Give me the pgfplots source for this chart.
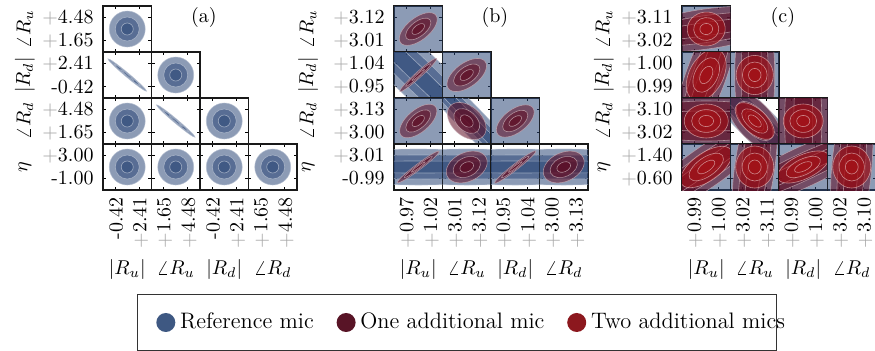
\documentclass[border=0pt]{standalone}
\usepackage{pgfplots}
\usepackage{pgfplotstable}
\pgfplotsset{compat=1.18}
\definecolor{refb}{RGB}{45,72,120}
\definecolor{onem}{RGB}{95,12,35}
\definecolor{twom}{RGB}{165,18,24}
\definecolor{legb}{RGB}{62,88,130}
\definecolor{lego}{RGB}{88,20,38}
\definecolor{legt}{RGB}{140,24,30}
\newcommand\pl{{\color{black!35}$+$}}
\pgfdeclareplotmark{ell}{%
  \pgfpathellipse{\pgfpointorigin}{\pgfpoint{\ellrx pt}{0pt}}{\pgfpoint{0pt}{\ellry pt}}%
  \pgfusepath{fill,stroke}}
\pgfplotsset{
  ells/.style 2 args={scatter, only marks, mark=ell,
    point meta=0, point meta min=0, point meta max=1,
    visualization depends on={\thisrow{rx}\as\ellrx},
    visualization depends on={\thisrow{ry}\as\ellry},
    visualization depends on={\thisrow{a}\as\ellang},
    scatter/@pre marker code/.code={\pgfscope\pgftransformrotate{\ellang}},
    scatter/@post marker code/.code={\endpgfscope},
    mark options={fill=#1, fill opacity=#2, draw=#1!35!white, draw opacity=0.75, line width=0.3pt}},
  B/.style={ells={refb}{0.55}},
  M/.style={ells={onem}{0.55}},
  R/.style={ells={twom}{0.6}},
  cell/.style={scale only axis, width=24.25pt, height=23pt, anchor=north west,
    xmin=-1,xmax=1,ymin=-1,ymax=1, xtick={-0.5,0.5}, ytick={-0.5,0.5},
    xticklabels={}, yticklabels={}, tick align=inside, major tick length=1.5pt,
    tick style={black, line width=0.5pt}, axis line style={black!90, line width=0.9pt},
    clip marker paths=true,
    xticklabel style={rotate=90, anchor=east, yshift=-0.5pt},
    yticklabel style={anchor=east, xshift=-1.2pt},
    every axis x label/.style={at={(axis description cs:0.5,-1.72)}, anchor=center},
    every axis y label/.style={at={(axis description cs:-1.61,0.5)}, rotate=90, anchor=center},
    every axis title/.style={at={(axis description cs:2.08,0.76)}, anchor=center},
  },
  ly/.style n args={3}{ylabel={#1}, yticklabels={{#2},{#3}}},
  bx/.style n args={3}{xlabel={#1}, xticklabels={{#2},{#3}}},
  lyb/.style={every axis y label/.append style={at={(axis description cs:-1.77,0.5)}}},
}
% ---------- ellipse tables: x y (axis units), rx ry (pt), a (deg) ----------
\pgfplotstableread{
x y rx ry a
0 0 9 9 0
0 0 6 6 0
0 0 3 3 0
}\aCirc
\pgfplotstableread{
x y rx ry a
0 0 12.6 1.0 -40
0 0 8.4 0.65 -40
0 0 4.2 0.35 -40
}\aLine
\pgfplotstableread{
x y rx ry a
0 0 60 60 0
}\bg
\pgfplotstableread{
x y rx ry a
0 0 60 12 -44
0 0 60 8 -44
0 0 60 4 -44
}\bBandA
\pgfplotstableread{
x y rx ry a
0.12 0.12 60 6.6 -46
0.12 0.12 60 4.4 -46
0.12 0.12 60 2.2 -46
}\bBandB
\pgfplotstableread{
x y rx ry a
0 0 60 9 0
0 0 60 6 0
0 0 60 3 0
}\bBandH
\pgfplotstableread{
x y rx ry a
0 0 60 9 -45
0 0 60 6 -45
0 0 60 3 -45
}\cBand
% maroon, panel (b)
\pgfplotstableread{
x y rx ry a
0 0 11.2 5.6 38
0 0 7.5 3.7 38
0 0 3.7 1.9 38
}\bMa
\pgfplotstableread{
x y rx ry a
0 0 12.4 1.5 42
0 0 8.3 1.0 42
0 0 4.1 0.5 42
}\bMb
\pgfplotstableread{
x y rx ry a
0 0 11.4 6.0 36
0 0 7.6 4.0 36
0 0 3.8 2.0 36
}\bMc
\pgfplotstableread{
x y rx ry a
0 0 11.2 5.6 40
0 0 7.5 3.7 40
0 0 3.7 1.9 40
}\bMd
\pgfplotstableread{
x y rx ry a
0 0 11.2 7.4 -42
0 0 7.5 4.9 -42
0 0 3.7 2.5 -42
}\bMe
\pgfplotstableread{
x y rx ry a
0 0 11.0 5.8 37
0 0 7.3 3.9 37
0 0 3.7 1.9 37
}\bMf
\pgfplotstableread{
x y rx ry a
0 0 13 1.5 37
0 0 8.7 1.0 37
0 0 4.3 0.5 37
}\bMg
\pgfplotstableread{
x y rx ry a
0 0 10.8 7.2 25
0 0 7.2 4.8 25
0 0 3.6 2.4 25
}\bMh
\pgfplotstableread{
x y rx ry a
0 0 13 1.5 38
0 0 8.7 1.0 38
0 0 4.3 0.5 38
}\bMi
\pgfplotstableread{
x y rx ry a
0 0 10.8 7.2 25
0 0 7.2 4.8 25
0 0 3.6 2.4 25
}\bMj
% maroon, panel (c)
\pgfplotstableread{
x y rx ry a
0 0 40 10 8
0 0 40 6.7 8
0 0 40 3.3 8
}\cMa
\pgfplotstableread{
x y rx ry a
0 0 40 10 70
0 0 40 6.7 70
0 0 40 3.3 70
}\cMb
\pgfplotstableread{
x y rx ry a
0 0 40 10 90
0 0 40 6.7 90
0 0 40 3.3 90
}\cMc
\pgfplotstableread{
x y rx ry a
0 0 40 15 0
0 0 40 10 0
0 0 40 5 0
}\cMd
\pgfplotstableread{
x y rx ry a
0 0 18 9 -48
0 0 12 6 -48
0 0 6 3 -48
}\cMe
\pgfplotstableread{
x y rx ry a
0 0 40 14 90
0 0 40 9.3 90
0 0 40 4.7 90
}\cMf
\pgfplotstableread{
x y rx ry a
0 0 40 10 35
0 0 40 6.7 35
0 0 40 3.3 35
}\cMg
\pgfplotstableread{
x y rx ry a
0 0 40 10 82
0 0 40 6.7 82
0 0 40 3.3 82
}\cMh
\pgfplotstableread{
x y rx ry a
0 0 40 10 25
0 0 40 6.7 25
0 0 40 3.3 25
}\cMi
\pgfplotstableread{
x y rx ry a
0 0 40 10 85
0 0 40 6.7 85
0 0 40 3.3 85
}\cMj
% red, panel (c)
\pgfplotstableread{
x y rx ry a
0 0 9.5 8.5 5
0 0 6.3 5.7 5
0 0 3.2 2.8 5
}\cRa
\pgfplotstableread{
x y rx ry a
0 0 14 8.5 62
0 0 9.3 5.7 62
0 0 4.7 2.8 62
}\cRb
\pgfplotstableread{
x y rx ry a
0 0 9.8 9.3 90
0 0 6.5 6.2 90
0 0 3.3 3.1 90
}\cRc
\pgfplotstableread{
x y rx ry a
0 0 11 8.5 0
0 0 7.3 5.7 0
0 0 3.7 2.8 0
}\cRd
\pgfplotstableread{
x y rx ry a
0 0 12 6 -42
0 0 8 4 -42
0 0 4 2 -42
}\cRe
\pgfplotstableread{
x y rx ry a
0 0 10 8.5 0
0 0 6.7 5.7 0
0 0 3.3 2.8 0
}\cRf
\pgfplotstableread{
x y rx ry a
0 0 15 7 35
0 0 10 4.7 35
0 0 5 2.3 35
}\cRg
\pgfplotstableread{
x y rx ry a
0 0 10.5 9.5 90
0 0 7 6.3 90
0 0 3.5 3.2 90
}\cRh
\pgfplotstableread{
x y rx ry a
0 0 14 6 25
0 0 9.3 4 25
0 0 4.7 2 25
}\cRi
\pgfplotstableread{
x y rx ry a
0 0 10.5 9.5 90
0 0 7 6.3 90
0 0 3.5 3.2 90
}\cRj
\begin{document}
\begin{tikzpicture}
\useasboundingbox (0,0) rectangle (437.5pt,175pt);
% ================= panel (a) =================
\begin{axis}[cell, at={(51.5pt,172pt)}, ly={$\angle R_u$}{\pl1.65}{\pl4.48}, title={(a)}]
\addplot[B] table {\aCirc};
\end{axis}
\begin{axis}[cell, at={(51.5pt,149pt)}, ly={$|R_d|$}{-0.42}{\pl2.41}]
\addplot[B] table {\aLine};
\end{axis}
\begin{axis}[cell, at={(75.75pt,149pt)}]
\addplot[B] table {\aCirc};
\end{axis}
\begin{axis}[cell, at={(51.5pt,126pt)}, ly={$\angle R_d$}{\pl1.65}{\pl4.48}]
\addplot[B] table {\aCirc};
\end{axis}
\begin{axis}[cell, at={(75.75pt,126pt)}]
\addplot[B] table {\aLine};
\end{axis}
\begin{axis}[cell, at={(100pt,126pt)}]
\addplot[B] table {\aCirc};
\end{axis}
\begin{axis}[cell, at={(51.5pt,103pt)}, ly={$\eta$}{-1.00}{\pl3.00}, bx={$|R_u|$}{-0.42}{\pl2.41}]
\addplot[B] table {\aCirc};
\end{axis}
\begin{axis}[cell, at={(75.75pt,103pt)}, bx={$\angle R_u$}{\pl1.65}{\pl4.48}]
\addplot[B] table {\aCirc};
\end{axis}
\begin{axis}[cell, at={(100pt,103pt)}, bx={$|R_d|$}{-0.42}{\pl2.41}]
\addplot[B] table {\aCirc};
\end{axis}
\begin{axis}[cell, at={(124.25pt,103pt)}, bx={$\angle R_d$}{\pl1.65}{\pl4.48}]
\addplot[B] table {\aCirc};
\end{axis}
% ================= panel (b) =================
\begin{axis}[cell, lyb, at={(197pt,172pt)}, ly={$\angle R_u$}{\pl3.01}{\pl3.12}, title={(b)}]
\addplot[B] table {\bg};
\addplot[M] table {\bMa};
\end{axis}
\begin{axis}[cell, lyb, at={(197pt,149pt)}, ly={$|R_d|$}{\pl0.95}{\pl1.04}]
\addplot[B] table {\bBandA};
\addplot[M] table {\bMb};
\end{axis}
\begin{axis}[cell, at={(221.25pt,149pt)}]
\addplot[B] table {\bg};
\addplot[M] table {\bMc};
\end{axis}
\begin{axis}[cell, lyb, at={(197pt,126pt)}, ly={$\angle R_d$}{\pl3.00}{\pl3.13}]
\addplot[B] table {\bg};
\addplot[M] table {\bMd};
\end{axis}
\begin{axis}[cell, at={(221.25pt,126pt)}]
\addplot[B] table {\bBandB};
\addplot[M] table {\bMe};
\end{axis}
\begin{axis}[cell, at={(245.5pt,126pt)}]
\addplot[B] table {\bg};
\addplot[M] table {\bMf};
\end{axis}
\begin{axis}[cell, lyb, at={(197pt,103pt)}, ly={$\eta$}{-0.99}{\pl3.01}, bx={$|R_u|$}{\pl0.97}{\pl1.02}]
\addplot[B] table {\bBandH};
\addplot[M] table {\bMg};
\end{axis}
\begin{axis}[cell, at={(221.25pt,103pt)}, bx={$\angle R_u$}{\pl3.01}{\pl3.12}]
\addplot[B] table {\bBandH};
\addplot[M] table {\bMh};
\end{axis}
\begin{axis}[cell, at={(245.5pt,103pt)}, bx={$|R_d|$}{\pl0.95}{\pl1.04}]
\addplot[B] table {\bBandH};
\addplot[M] table {\bMi};
\end{axis}
\begin{axis}[cell, at={(269.75pt,103pt)}, bx={$\angle R_d$}{\pl3.00}{\pl3.13}]
\addplot[B] table {\bBandH};
\addplot[M] table {\bMj};
\end{axis}
% ================= panel (c) =================
\begin{axis}[cell, at={(341pt,172pt)}, ly={$\angle R_u$}{\pl3.02}{\pl3.11}, title={(c)}]
\addplot[B] table {\bg};
\addplot[M] table {\cMa};
\addplot[R] table {\cRa};
\end{axis}
\begin{axis}[cell, at={(341pt,149pt)}, ly={$|R_d|$}{\pl0.99}{\pl1.00}]
\addplot[B] table {\bg};
\addplot[M] table {\cMb};
\addplot[R] table {\cRb};
\end{axis}
\begin{axis}[cell, at={(365.25pt,149pt)}]
\addplot[B] table {\bg};
\addplot[M] table {\cMc};
\addplot[R] table {\cRc};
\end{axis}
\begin{axis}[cell, at={(341pt,126pt)}, ly={$\angle R_d$}{\pl3.02}{\pl3.10}]
\addplot[B] table {\bg};
\addplot[M] table {\cMd};
\addplot[R] table {\cRd};
\end{axis}
\begin{axis}[cell, at={(365.25pt,126pt)}]
\addplot[B] table {\cBand};
\addplot[M] table {\cMe};
\addplot[R] table {\cRe};
\end{axis}
\begin{axis}[cell, at={(389.5pt,126pt)}]
\addplot[B] table {\bg};
\addplot[M] table {\cMf};
\addplot[R] table {\cRf};
\end{axis}
\begin{axis}[cell, at={(341pt,103pt)}, ly={$\eta$}{\pl0.60}{\pl1.40}, bx={$|R_u|$}{\pl0.99}{\pl1.00}]
\addplot[B] table {\bg};
\addplot[M] table {\cMg};
\addplot[R] table {\cRg};
\end{axis}
\begin{axis}[cell, at={(365.25pt,103pt)}, bx={$\angle R_u$}{\pl3.02}{\pl3.11}]
\addplot[B] table {\bg};
\addplot[M] table {\cMh};
\addplot[R] table {\cRh};
\end{axis}
\begin{axis}[cell, at={(389.5pt,103pt)}, bx={$|R_d|$}{\pl0.99}{\pl1.00}]
\addplot[B] table {\bg};
\addplot[M] table {\cMi};
\addplot[R] table {\cRi};
\end{axis}
\begin{axis}[cell, at={(413.75pt,103pt)}, bx={$\angle R_d$}{\pl3.02}{\pl3.10}]
\addplot[B] table {\bg};
\addplot[M] table {\cMj};
\addplot[R] table {\cRj};
\end{axis}
% ================= legend =================
\begin{axis}[at={(0pt,0pt)}, anchor=south west, scale only axis, width=437.5pt, height=175pt,
  xmin=0,xmax=1,ymin=0,ymax=1, hide axis, legend columns=3,
  legend image code/.code={\path (0pt,0pt) -- (2.5pt,0pt); \fill[#1, draw=none] (0pt,0pt) circle[radius=4.75pt];},
  legend style={at={(0.5223,0.0786)}, anchor=center, draw=black!80, line width=0.6pt,
    font=\fontsize{11.2}{13.5}\selectfont,
    inner xsep=9.5pt, inner ysep=7pt, nodes={inner sep=2.4pt}, column sep=0pt}]
\addlegendimage{fill=legb}\addlegendentry{Reference mic\hspace*{9pt}}
\addlegendimage{fill=lego}\addlegendentry{One additional mic\hspace*{9pt}}
\addlegendimage{fill=legt}\addlegendentry{Two additional mics\hspace*{-16pt}}
\end{axis}
\end{tikzpicture}
\end{document}
